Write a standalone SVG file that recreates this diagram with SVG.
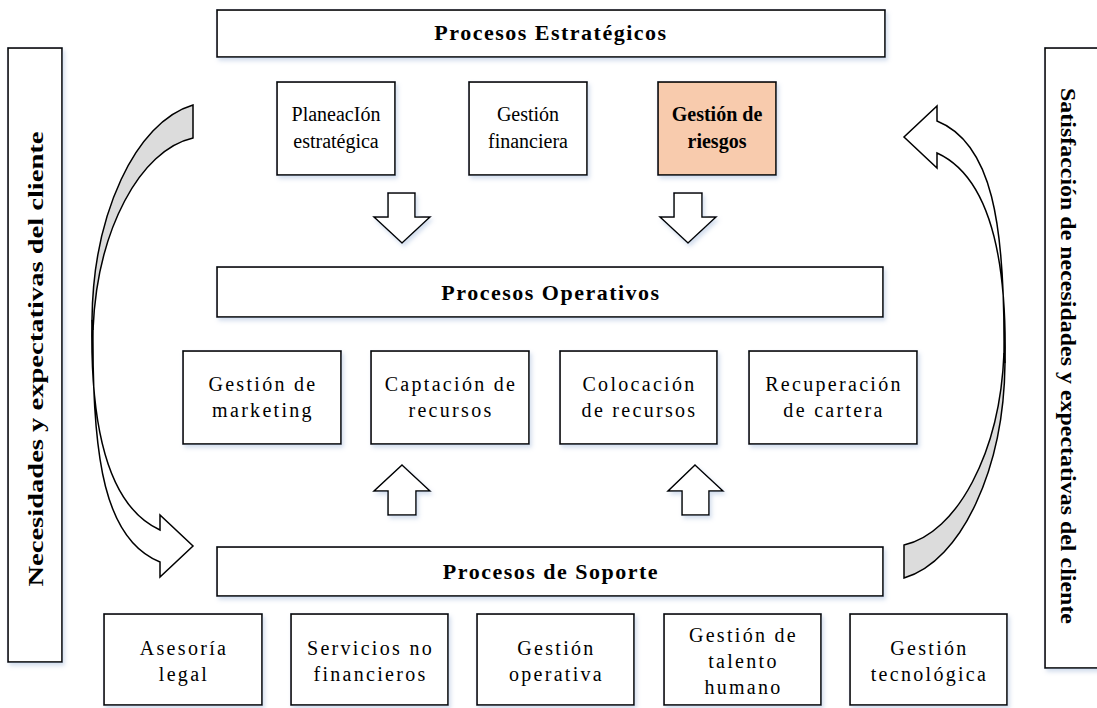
<svg xmlns="http://www.w3.org/2000/svg" width="1097" height="708" viewBox="0 0 1097 708">
<defs>
<filter id="sh" x="-10%" y="-10%" width="130%" height="140%">
<feDropShadow dx="2" dy="3" stdDeviation="2" flood-color="#9db5d8" flood-opacity="0.45"/>
</filter>
<g id="carrow">
<path class="back" d="M193,105 C135,122 93,215 92,320 L93,330 C97,230 140,150 193,138 Z"/>
<path class="arr" d="M92,320 C90,420 105,505 160,530 L160,515 L193,546 L160,577 L160,562 C105,540 92,460 93,330 Z"/>
</g>
</defs>
<style>
.box{fill:#fff;stroke:#000;stroke-width:1.6;filter:url(#sh)}
.hl{fill:#f8cbad}
.t{font-family:"Liberation Serif","Times New Roman",serif;font-size:20px;text-anchor:middle;fill:#000}
.sp{letter-spacing:2.3px}
.b{font-weight:bold}
.h{font-size:22px;font-weight:bold;letter-spacing:1.5px}
.side{font-size:22px;font-weight:bold}
.arr{fill:#fff;stroke:#000;stroke-width:1.5;stroke-linejoin:miter}
.back{fill:#dcdcdc;stroke:#000;stroke-width:1.5}
.blk{filter:url(#sh)}
</style>
<rect width="1097" height="708" fill="#fff"/>

<g id="side-left">
<rect class="box" x="8" y="48" width="54" height="614"/>
<text class="t side" transform="translate(43,359) rotate(-90)" textLength="455" lengthAdjust="spacingAndGlyphs">Necesidades y expectativas del cliente</text>
</g>
<g id="side-right">
<rect class="box" x="1045" y="48" width="70" height="620"/>
<text class="t side" transform="translate(1061,356) rotate(90)" textLength="536" lengthAdjust="spacingAndGlyphs">Satisfacción de necesidades y expectativas del cliente</text>
</g>

<g id="procesos-estrategicos">
<rect class="box" x="217" y="10" width="668" height="47"/>
<text class="t h" x="551" y="40">Procesos Estratégicos</text>
</g>
<g id="planeacion">
<rect class="box" x="277" y="82" width="118" height="93"/>
<text class="t" x="336" y="121">PlaneacIón</text>
<text class="t" x="336" y="148">estratégica</text>
</g>
<g id="gestion-financiera">
<rect class="box" x="469" y="82" width="118" height="93"/>
<text class="t" x="528" y="121">Gestión</text>
<text class="t" x="528" y="148">financiera</text>
</g>
<g id="gestion-riesgos">
<rect class="box hl" x="658" y="82" width="118" height="93"/>
<text class="t b" x="717" y="121">Gestión de</text>
<text class="t b" x="717" y="148">riesgos</text>
</g>

<g id="procesos-operativos">
<rect class="box" x="217" y="267" width="666" height="50"/>
<text class="t h" x="551" y="300">Procesos Operativos</text>
</g>
<g id="marketing">
<rect class="box" x="183" y="351" width="158" height="93"/>
<text class="t sp" x="263" y="391">Gestión de</text>
<text class="t sp" x="263" y="417">marketing</text>
</g>
<g id="captacion">
<rect class="box" x="371" y="351" width="158" height="93"/>
<text class="t sp" x="451" y="391">Captación de</text>
<text class="t sp" x="451" y="417">recursos</text>
</g>
<g id="colocacion">
<rect class="box" x="560" y="351" width="157" height="93"/>
<text class="t sp" x="639.5" y="391">Colocación</text>
<text class="t sp" x="639.5" y="417">de recursos</text>
</g>
<g id="recuperacion">
<rect class="box" x="749" y="351" width="168" height="93"/>
<text class="t sp" x="834" y="391">Recuperación</text>
<text class="t sp" x="834" y="417">de cartera</text>
</g>

<g id="procesos-soporte">
<rect class="box" x="217" y="547" width="666" height="49"/>
<text class="t h" x="551" y="579">Procesos de Soporte</text>
</g>
<g id="asesoria">
<rect class="box" x="104" y="614" width="158" height="91"/>
<text class="t sp" x="184" y="655">Asesoría</text>
<text class="t sp" x="184" y="681">legal</text>
</g>
<g id="servicios">
<rect class="box" x="291" y="614" width="157" height="91"/>
<text class="t sp" x="370.5" y="655">Servicios no</text>
<text class="t sp" x="370.5" y="681">financieros</text>
</g>
<g id="gestion-operativa">
<rect class="box" x="477" y="614" width="157" height="91"/>
<text class="t sp" x="556.5" y="655">Gestión</text>
<text class="t sp" x="556.5" y="681">operativa</text>
</g>
<g id="talento">
<rect class="box" x="664" y="614" width="157" height="91"/>
<text class="t sp" x="743.5" y="642">Gestión de</text>
<text class="t sp" x="743.5" y="668">talento</text>
<text class="t sp" x="743.5" y="694">humano</text>
</g>
<g id="tecnologica">
<rect class="box" x="850" y="614" width="157" height="91"/>
<text class="t sp" x="929.5" y="655">Gestión</text>
<text class="t sp" x="929.5" y="681">tecnológica</text>
</g>

<g id="connectors">
<g class="blk">
<path class="arr" d="M388,193 H415 V217 H430 L402,243 L374,217 H388 Z"/>
<path class="arr" d="M674,193 H702 V217 H716 L688,243 L660,217 H674 Z"/>
<path class="arr" d="M402,465 L430,491 H416 V515 H388 V491 H374 Z"/>
<path class="arr" d="M695,465 L723,491 H709 V515 H682 V491 H668 Z"/>
</g>
<use href="#carrow"/>
<use href="#carrow" transform="rotate(180 548.5 341.5)"/>
</g>
</svg>
